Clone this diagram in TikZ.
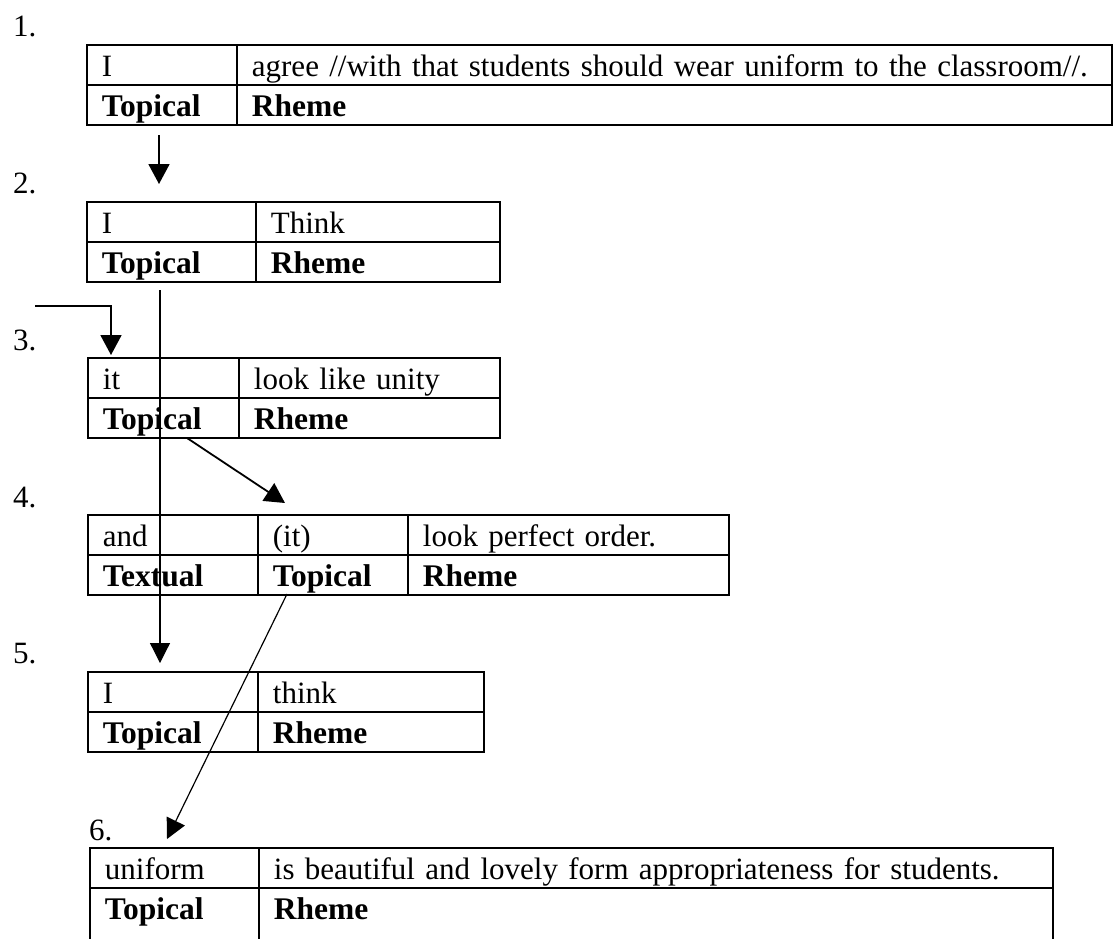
\documentclass[tikz,border=0pt]{standalone}
\usepackage{fontspec}
\setmainfont{Liberation Serif}
\usetikzlibrary{arrows.meta}
\begin{document}
\begin{tikzpicture}[x=1pt,y=-1pt,
  cell/.style={draw, line width=1.8pt, rectangle, anchor=north west,
    inner xsep=15pt, inner ysep=0pt, minimum height=40pt,
    text height=28pt, text depth=4pt, align=left,
    font=\fontsize{31}{36}\selectfont},
  head/.style={cell, font=\fontsize{31.5}{36}\selectfont\bfseries},
  num/.style={anchor=base west, inner sep=0pt, font=\fontsize{31}{36}\selectfont},
  arr/.style={-{Triangle[length=20pt,width=21pt]}, line width=1.8pt},
  thinarr/.style={-{Triangle[length=20pt,width=20pt]}, line width=1.2pt}]
\clip (0,0) rectangle (1113,938);

% clause 1
\node[num] (n1) at (13,36) {1.};
\node[cell, text width=120pt] (t1a) at (86,44) {I};
\node[cell, text width=845pt] (t1b) at (236,44) {agree //with that students should wear uniform to the classroom//.};
\node[head, text width=120pt] (t1c) at (86,84) {Topical};
\node[head, text width=845pt] (t1d) at (236,84) {Rheme};

% clause 2
\node[num] (n2) at (13,193) {2.};
\node[cell, text width=139pt] (t2a) at (86,201) {I};
\node[cell, text width=214pt] (t2b) at (255,201) {Think};
\node[head, text width=139pt] (t2c) at (86,241) {Topical};
\node[head, text width=214pt] (t2d) at (255,241) {Rheme};

% clause 3
\node[num] (n3) at (13,350) {3.};
\node[cell, text width=121pt] (t3a) at (87,357) {it};
\node[cell, text width=231pt] (t3b) at (238,357) {look like unity};
\node[head, text width=121pt] (t3c) at (87,397) {Topical};
\node[head, text width=231pt] (t3d) at (238,397) {Rheme};

% clause 4
\node[num] (n4) at (13,507) {4.};
\node[cell, text width=140pt] (t4a) at (87,514) {and};
\node[cell, text width=120pt] (t4b) at (257,514) {(it)};
\node[cell, text width=291pt] (t4c) at (407,514) {look perfect order.};
\node[head, text width=140pt] (t4d) at (87,554) {Textual};
\node[head, text width=120pt] (t4e) at (257,554) {Topical};
\node[head, text width=291pt] (t4f) at (407,554) {Rheme};

% clause 5
\node[num] (n5) at (13,663) {5.};
\node[cell, text width=140pt] (t5a) at (87,671) {I};
\node[cell, text width=196pt] (t5b) at (257,671) {think};
\node[head, text width=140pt] (t5c) at (87,711) {Topical};
\node[head, text width=196pt] (t5d) at (257,711) {Rheme};

% clause 6 (lower row runs on past the page edge)
\node[num] (n6) at (89,840) {6.};
\node[cell, text width=139pt] (t6a) at (89,847) {uniform};
\node[cell, text width=764pt] (t6b) at (258,847) {is beautiful and lovely form appropriateness for students.};
\node[head, text width=139pt, minimum height=120pt, text depth=84pt] (t6c) at (89,887) {Topical};
\node[head, text width=764pt, minimum height=120pt, text depth=84pt] (t6d) at (258,887) {Rheme};

% connector ends
\coordinate (a1s) at (159,135);
\coordinate (a1e) at (159,184);
\coordinate (a2s) at (35,306);
\coordinate (a2e) at (111,355);
\coordinate (a3s) at (187,438);
\coordinate (a3e) at (285,503);
\coordinate (a4s) at (160,290);
\coordinate (a4e) at (160,663);
\coordinate (a5s) at (287,594);
\coordinate (a5e) at (167,839);

% thematic progression
\draw[arr] (a1s) -- (a1e);
\draw[arr] (a2s) -| (a2e);
\draw[arr] (a3s) -- (a3e);
\draw[thinarr] (a4s) -- (a4e);
\draw[thinarr] (a5s) -- (a5e);
\end{tikzpicture}
\end{document}
